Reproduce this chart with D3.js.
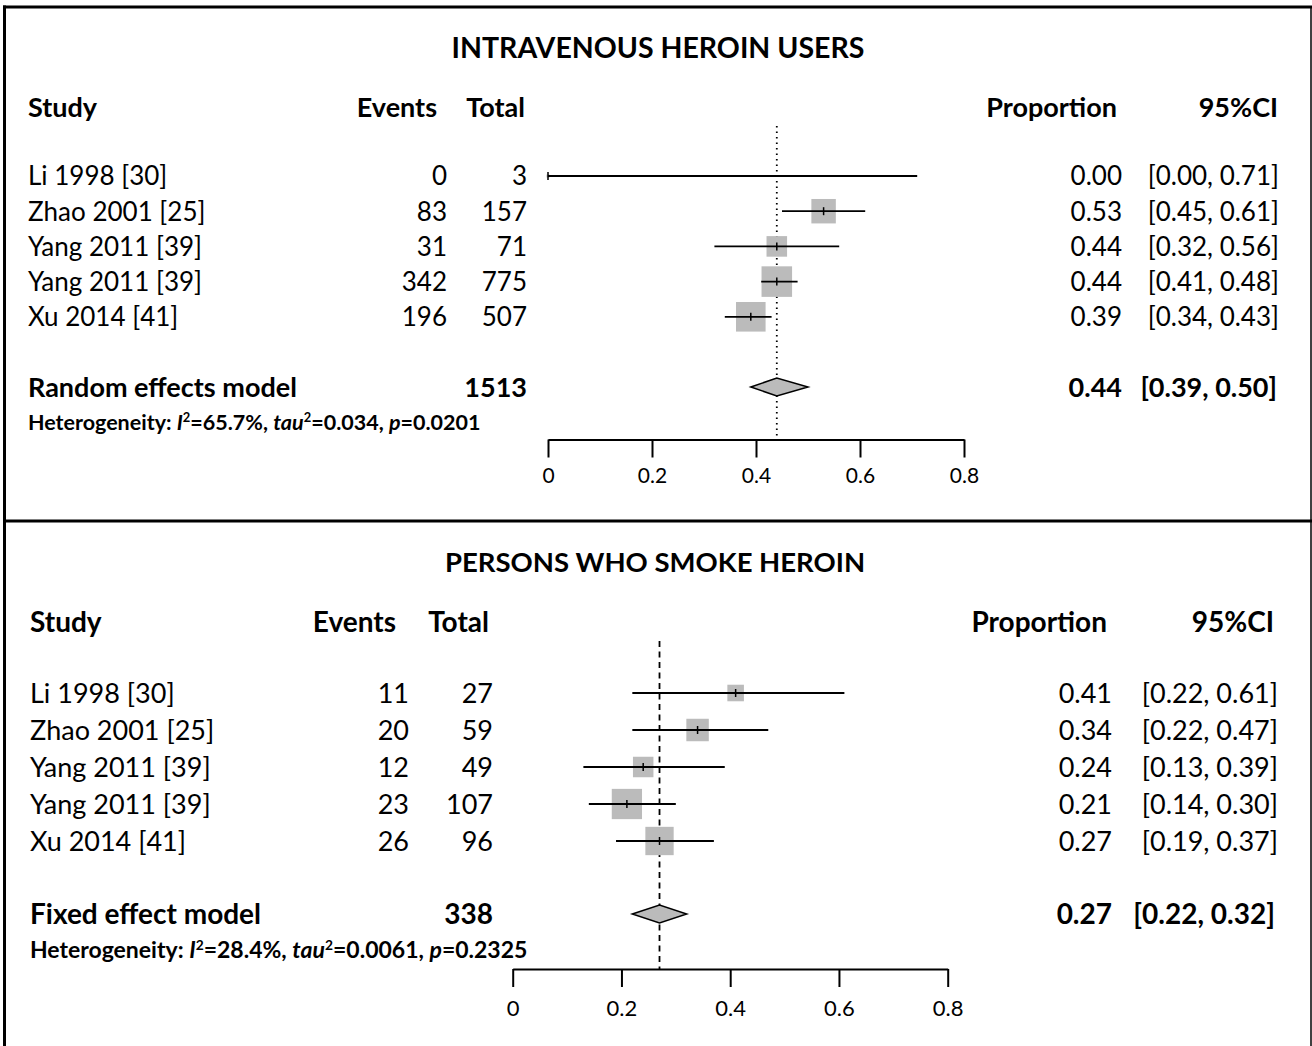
<!DOCTYPE html>
<html lang="en">
<head>
    <meta charset="UTF-8">
    <title>Forest plots: heroin users</title>
    <script src="https://d3js.org/d3.v7.min.js"></script>
    <style>
        body { margin: 0; background: #fff; }
        svg { display: block; font-family: Lato, "Open Sans", sans-serif; }
    </style>
</head>
<body>
    <div id="chart"></div>

    <script>
        // Panel 1: intravenous heroin users
        const ivStudy = ["Li 1998 [30]", "Zhao 2001 [25]", "Yang 2011 [39]", "Yang 2011 [39]", "Xu 2014 [41]"];
        const ivEvents = [0, 83, 31, 342, 196];
        const ivTotal = [3, 157, 71, 775, 507];
        const ivProp = [0.00, 0.53, 0.44, 0.44, 0.39];
        const ivLower = [0.00, 0.45, 0.32, 0.41, 0.34];
        const ivUpper = [0.71, 0.61, 0.56, 0.48, 0.43];
        const ivWeight = [0.3, 20.5, 14.5, 32, 30];
        const ivPooled = [0.44, 0.39, 0.50];   // estimate, lower, upper
        const ivPooledTotal = 1513;

        // Panel 2: persons who smoke heroin
        const psStudy = ["Li 1998 [30]", "Zhao 2001 [25]", "Yang 2011 [39]", "Yang 2011 [39]", "Xu 2014 [41]"];
        const psEvents = [11, 20, 12, 23, 26];
        const psTotal = [27, 59, 49, 107, 96];
        const psProp = [0.41, 0.34, 0.24, 0.21, 0.27];
        const psLower = [0.22, 0.22, 0.13, 0.14, 0.19];
        const psUpper = [0.61, 0.47, 0.39, 0.30, 0.37];
        const psWeight = [9.4, 17.3, 14.4, 31.4, 27.5];
        const psPooled = [0.27, 0.22, 0.32];
        const psPooledTotal = 338;

        const axisTicks = [0, 0.2, 0.4, 0.6, 0.8];

        const W = 1312, H = 1046;
        const boxFill = "#bbbbbb";

        const svg = d3.select("#chart").append("svg")
            .attr("width", W)
            .attr("height", H);

        function txt(g, x, y, s, o = {}) {
            return g.append("text")
                .attr("x", x)
                .attr("y", y)
                .attr("dy", "0.36em")
                .attr("text-anchor", o.anchor || "start")
                .attr("font-weight", o.bold ? "bold" : "normal")
                .attr("font-size", o.size || 25)
                .attr("fill", "#000")
                .text(s);
        }

        function fmt2(v) { return v.toFixed(2); }

        function drawPanel(p) {
            const g = svg.append("g");
            const fs = p.fontSize, bs = p.boldSize;

            const x = d3.scaleLinear().domain([0, 0.8]).range(p.xRange);
            const y = d3.scaleLinear().domain([0, p.study.length - 1]).range(p.rowRange);
            const box = d3.scaleSqrt().domain([0, 100]).range([0, 54]);

            // title and headers
            txt(g, p.titleX, p.titleY, p.title, {anchor: "middle", bold: true, size: p.titleSize});
            txt(g, p.col.study, p.headY, "Study", {bold: true, size: bs});
            txt(g, p.col.eventsHead, p.headY, "Events", {anchor: "end", bold: true, size: bs});
            txt(g, p.col.totalHead, p.headY, "Total", {anchor: "end", bold: true, size: bs});
            txt(g, p.col.propHead, p.headY, "Proportion", {anchor: "end", bold: true, size: bs});
            txt(g, p.col.ciHead, p.headY, "95%CI", {anchor: "end", bold: true, size: bs});

            // study rows
            p.study.forEach((s, i) => {
                const yy = y(i);
                txt(g, p.col.study, yy, s, {size: fs});
                txt(g, p.col.events, yy, p.events[i], {anchor: "end", size: fs});
                txt(g, p.col.total, yy, p.total[i], {anchor: "end", size: fs});
                txt(g, p.col.prop, yy, fmt2(p.prop[i]), {anchor: "end", size: fs});
                txt(g, p.col.ci, yy, `[${fmt2(p.lower[i])}, ${fmt2(p.upper[i])}]`, {anchor: "end", size: fs});
            });

            // reference line at pooled estimate
            g.append("line")
                .attr("x1", x(p.pooled[0])).attr("x2", x(p.pooled[0]))
                .attr("y1", p.refTop).attr("y2", p.axisY)
                .attr("stroke", "#000")
                .attr("stroke-width", p.refWidth)
                .attr("stroke-dasharray", p.refDash);

            // boxes, CI lines, point ticks
            p.study.forEach((s, i) => {
                const yy = y(i);
                const b = box(p.weight[i]);
                g.append("rect")
                    .attr("x", x(p.prop[i]) - b / 2)
                    .attr("y", yy - b / 2)
                    .attr("width", b)
                    .attr("height", b)
                    .attr("fill", boxFill);
                g.append("line")
                    .attr("x1", x(p.lower[i])).attr("x2", x(p.upper[i]))
                    .attr("y1", yy).attr("y2", yy)
                    .attr("stroke", "#000")
                    .attr("stroke-width", 1.8);
                g.append("line")
                    .attr("x1", x(p.prop[i])).attr("x2", x(p.prop[i]))
                    .attr("y1", yy - 4).attr("y2", yy + 4)
                    .attr("stroke", "#000")
                    .attr("stroke-width", 1.5);
            });

            // pooled row
            const py = p.pooledY;
            txt(g, p.col.study, py, p.modelLabel, {bold: true, size: bs});
            txt(g, p.col.total, py, p.pooledTotal, {anchor: "end", bold: true, size: bs});
            txt(g, p.col.prop, py, fmt2(p.pooled[0]), {anchor: "end", bold: true, size: bs});
            txt(g, p.col.ciBold, py, `[${fmt2(p.pooled[1])}, ${fmt2(p.pooled[2])}]`, {anchor: "end", bold: true, size: bs});

            const dh = 9;
            g.append("path")
                .attr("d", `M${x(p.pooled[1])},${py} L${x(p.pooled[0])},${py - dh} L${x(p.pooled[2])},${py} L${x(p.pooled[0])},${py + dh} Z`)
                .attr("fill", boxFill)
                .attr("stroke", "#000")
                .attr("stroke-width", 1.5);

            // heterogeneity line
            const het = g.append("text")
                .attr("x", p.col.study)
                .attr("y", p.hetY)
                .attr("dy", "0.36em")
                .attr("font-weight", "bold")
                .attr("font-size", p.hetSize);
            const sup = p.hetSize * 0.6, up = p.hetSize * 0.38;
            het.append("tspan").text("Heterogeneity: ");
            het.append("tspan").attr("font-style", "italic").text("I");
            het.append("tspan").attr("font-size", sup).attr("dy", -up).text("2");
            het.append("tspan").attr("dy", up).text(`=${p.het[0]}, `);
            het.append("tspan").attr("font-style", "italic").text("tau");
            het.append("tspan").attr("font-size", sup).attr("dy", -up).text("2");
            het.append("tspan").attr("dy", up).text(`=${p.het[1]}, `);
            het.append("tspan").attr("font-style", "italic").text("p");
            het.append("tspan").text(`=${p.het[2]}`);

            // axis
            const ax = g.append("g")
                .attr("transform", `translate(0,${p.axisY})`)
                .call(d3.axisBottom(x)
                    .tickValues(axisTicks)
                    .tickFormat(d3.format("~g"))
                    .tickSize(18)
                    .tickSizeOuter(0)
                    .tickPadding(p.tickPad));
            ax.select(".domain").attr("stroke-width", 2);
            ax.selectAll(".tick line").attr("stroke-width", 2);
            ax.selectAll(".tick text")
                .attr("font-size", p.axisSize)
                .attr("font-family", "Lato, sans-serif")
                .attr("fill", "#000");
        }

        drawPanel({
            title: "INTRAVENOUS HEROIN USERS",
            modelLabel: "Random effects model",
            study: ivStudy, events: ivEvents, total: ivTotal,
            prop: ivProp, lower: ivLower, upper: ivUpper, weight: ivWeight,
            pooled: ivPooled, pooledTotal: ivPooledTotal,
            het: ["65.7%", "0.034", "0.0201"],
            fontSize: 26, boldSize: 27, titleSize: 28.5, hetSize: 21.5, axisSize: 21,
            titleX: 658, titleY: 48, headY: 107,
            col: {study: 28, eventsHead: 437, totalHead: 525, events: 447, total: 527,
                  propHead: 1117, ciHead: 1278, prop: 1122, ci: 1279, ciBold: 1277},
            xRange: [548, 964], rowRange: [176, 316.8],
            pooledY: 387, hetY: 422, axisY: 439.5, tickPad: 11,
            refTop: 126, refDash: "1.5,4", refWidth: 1.8
        });

        drawPanel({
            title: "PERSONS WHO SMOKE HEROIN",
            modelLabel: "Fixed effect model",
            study: psStudy, events: psEvents, total: psTotal,
            prop: psProp, lower: psLower, upper: psUpper, weight: psWeight,
            pooled: psPooled, pooledTotal: psPooledTotal,
            het: ["28.4%", "0.0061", "0.2325"],
            fontSize: 27, boldSize: 28, titleSize: 27.5, hetSize: 23, axisSize: 22,
            titleX: 655, titleY: 562, headY: 622,
            col: {study: 30, eventsHead: 396, totalHead: 489, events: 409, total: 493,
                  propHead: 1107, ciHead: 1274, prop: 1112, ci: 1278, ciBold: 1275},
            xRange: [512.7, 947.7], rowRange: [693, 841],
            pooledY: 914, hetY: 950, axisY: 969, tickPad: 13,
            refTop: 641, refDash: "6,4.5", refWidth: 1.8
        });

        // frame: thick left/top/divider, thin right edge
        const frame = svg.append("g").attr("stroke", "#000").attr("fill", "none");
        frame.append("line").attr("x1", 3).attr("x2", 1312).attr("y1", 7).attr("y2", 7).attr("stroke-width", 3);
        frame.append("line").attr("x1", 4.5).attr("x2", 4.5).attr("y1", 5.5).attr("y2", H).attr("stroke-width", 3);
        frame.append("line").attr("x1", 3).attr("x2", 1312).attr("y1", 521).attr("y2", 521).attr("stroke-width", 3);
        frame.append("line").attr("x1", 1311).attr("x2", 1311).attr("y1", 7).attr("y2", H).attr("stroke-width", 1.5);
    </script>
</body>
</html>
